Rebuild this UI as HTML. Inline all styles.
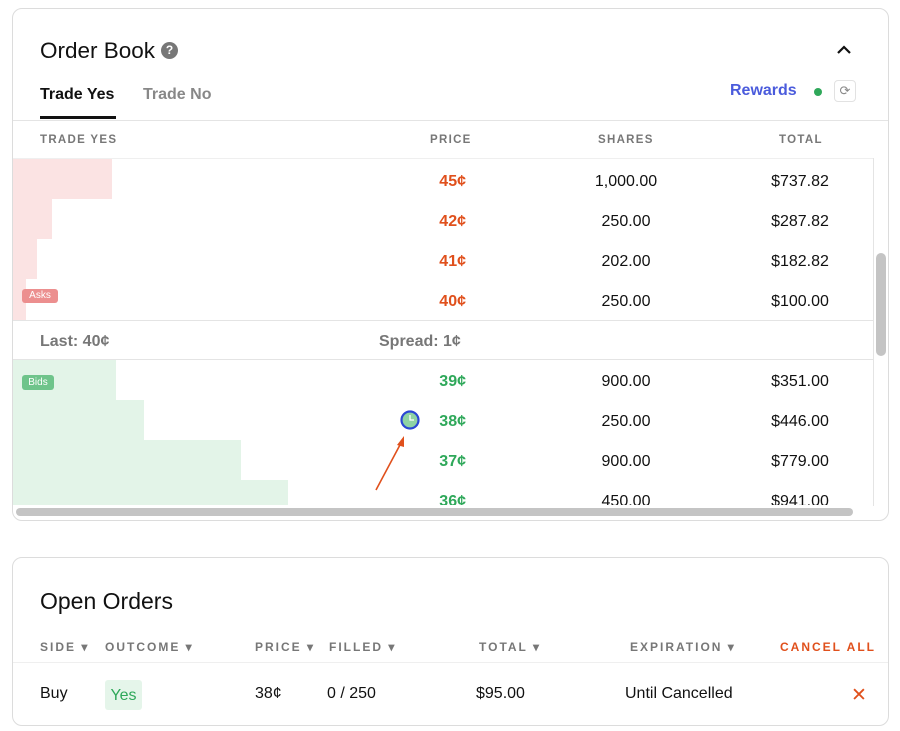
<!DOCTYPE html>
<html><head><style>
*{margin:0;padding:0;box-sizing:border-box}
body{width:900px;height:731px;background:#fff;font-family:"Liberation Sans",sans-serif;position:relative;overflow:hidden;color:#111}
.a{position:absolute;white-space:nowrap}
.card{position:absolute;border:1px solid #dcdcdc;border-radius:10px;background:#fff}
.hl{position:absolute;height:1px;background:#e4e4e4}
.th{font-size:11.5px;font-weight:bold;color:#777;letter-spacing:1.3px}
.p{font-size:16px;font-weight:bold;text-align:right;width:60px}
.s{font-size:16px;text-align:center;width:120px}
.red{color:#e0501c}.grn{color:#2fa85a}
.oh{font-size:12px;color:#777;letter-spacing:2px;font-weight:bold}
</style></head><body>
<div class="card" style="left:12px;top:8px;width:877px;height:513px"></div>
<div class="a" style="left:40px;top:38px;font-size:22.5px">Order Book</div>
<div class="a" style="left:161px;top:42px;width:17px;height:17px;border-radius:50%;background:#777;color:#fff;font-size:12px;font-weight:bold;text-align:center;line-height:17px">?</div>
<svg class="a" style="left:836px;top:44px" width="16" height="12"><path d="M2 9 L8 3 L14 9" stroke="#111" stroke-width="2.2" fill="none"/></svg>
<div class="a" style="left:40px;top:86px;font-size:16px;font-weight:bold">Trade Yes</div>
<div class="a" style="left:143px;top:86px;font-size:16px;font-weight:bold;color:#888">Trade No</div>
<div class="a" style="left:40px;top:116px;width:76px;height:3px;background:#111"></div>
<div class="a" style="left:730px;top:82px;font-size:16px;font-weight:bold;color:#4a5bdc">Rewards</div>
<div class="a" style="left:814px;top:88px;width:8px;height:8px;border-radius:50%;background:#2fa85a"></div>
<div class="a" style="left:834px;top:80px;width:22px;height:22px;border:1px solid #e2e2e2;border-radius:4px;color:#888;font-size:13px;text-align:center;line-height:20px">⟳</div>
<div class="hl" style="left:13px;top:120px;width:875px"></div>
<div class="a th" style="left:40px;top:134px">TRADE YES</div>
<div class="a th" style="left:430px;top:134px">PRICE</div>
<div class="a th" style="left:598px;top:134px">SHARES</div>
<div class="a th" style="left:779px;top:134px">TOTAL</div>
<div class="hl" style="left:13px;top:158px;width:860px;background:#efefef"></div>
<div class="a" style="left:13px;top:159px;width:99px;height:40px;background:#fbe3e3"></div>
<div class="a" style="left:13px;top:199px;width:39px;height:40px;background:#fbe3e3"></div>
<div class="a" style="left:13px;top:239px;width:24px;height:40px;background:#fbe3e3"></div>
<div class="a" style="left:13px;top:279px;width:13px;height:41px;background:#fbe3e3"></div>
<div class="a" style="left:22px;top:289px;width:36px;height:14px;border-radius:3px;background:#ec8f8f;color:#fff;font-size:10px;text-align:center;line-height:14px">Asks</div>
<div class="a p red" style="left:406px;top:173px">45¢</div><div class="a s" style="left:566px;top:173px">1,000.00</div><div class="a s" style="left:740px;top:173px">$737.82</div>
<div class="a p red" style="left:406px;top:213px">42¢</div><div class="a s" style="left:566px;top:213px">250.00</div><div class="a s" style="left:740px;top:213px">$287.82</div>
<div class="a p red" style="left:406px;top:253px">41¢</div><div class="a s" style="left:566px;top:253px">202.00</div><div class="a s" style="left:740px;top:253px">$182.82</div>
<div class="a p red" style="left:406px;top:293px">40¢</div><div class="a s" style="left:566px;top:293px">250.00</div><div class="a s" style="left:740px;top:293px">$100.00</div>
<div class="hl" style="left:13px;top:320px;width:860px"></div>
<div class="a" style="left:40px;top:333px;font-size:16px;font-weight:bold;color:#777">Last: 40¢</div>
<div class="a" style="left:379px;top:333px;font-size:16px;font-weight:bold;color:#777">Spread: 1¢</div>
<div class="hl" style="left:13px;top:359px;width:860px"></div>
<div class="a" style="left:13px;top:360px;width:103px;height:40px;background:#e3f4e8"></div>
<div class="a" style="left:13px;top:400px;width:131px;height:40px;background:#e3f4e8"></div>
<div class="a" style="left:13px;top:440px;width:228px;height:40px;background:#e3f4e8"></div>
<div class="a" style="left:13px;top:480px;width:275px;height:25px;background:#e3f4e8"></div>
<div class="a" style="left:22px;top:375px;width:32px;height:15px;border-radius:3px;background:#6fc48b;color:#fff;font-size:10px;text-align:center;line-height:15px">Bids</div>
<div style="position:absolute;left:13px;top:360px;width:860px;height:145px;overflow:hidden">
<div class="a p grn" style="left:393px;top:13px">39¢</div><div class="a s" style="left:553px;top:13px">900.00</div><div class="a s" style="left:727px;top:13px">$351.00</div>
<div class="a p grn" style="left:393px;top:53px">38¢</div><div class="a s" style="left:553px;top:53px">250.00</div><div class="a s" style="left:727px;top:53px">$446.00</div>
<div class="a p grn" style="left:393px;top:93px">37¢</div><div class="a s" style="left:553px;top:93px">900.00</div><div class="a s" style="left:727px;top:93px">$779.00</div>
<div class="a p grn" style="left:393px;top:133px">36¢</div><div class="a s" style="left:553px;top:133px">450.00</div><div class="a s" style="left:727px;top:133px">$941.00</div>
</div>
<svg class="a" style="left:360px;top:405px" width="70" height="95">
<circle cx="50" cy="15" r="8.5" fill="#8fd3a4" stroke="#2b47d4" stroke-width="2.2"/>
<path d="M50 10 V15 H54" stroke="#fff" stroke-width="1.3" fill="none"/>
<line x1="16" y1="85" x2="41" y2="38" stroke="#e0501c" stroke-width="1.6"/>
<path d="M44 31 L37 40 L44 42 Z" fill="#e0501c"/>
</svg>
<div class="a" style="left:873px;top:158px;width:1px;height:348px;background:#e4e4e4"></div>
<div class="a" style="left:876px;top:253px;width:10px;height:103px;border-radius:5px;background:#c4c4c4"></div>
<div class="a" style="left:16px;top:508px;width:837px;height:8px;border-radius:4px;background:#c4c4c4"></div>

<div class="card" style="left:12px;top:557px;width:877px;height:169px"></div>
<div class="a" style="left:40px;top:588px;font-size:23px">Open Orders</div>
<div class="a oh" style="left:40px;top:640px">SIDE ▾</div>
<div class="a oh" style="left:105px;top:640px">OUTCOME ▾</div>
<div class="a oh" style="left:255px;top:640px">PRICE ▾</div>
<div class="a oh" style="left:329px;top:640px">FILLED ▾</div>
<div class="a oh" style="left:479px;top:640px">TOTAL ▾</div>
<div class="a oh" style="left:630px;top:640px">EXPIRATION ▾</div>
<div class="a oh" style="left:780px;top:640px;color:#e0501c">CANCEL ALL</div>
<div class="hl" style="left:13px;top:662px;width:875px;background:#efefef"></div>
<div class="a" style="left:40px;top:685px;font-size:16px">Buy</div>
<div class="a" style="left:105px;top:680px;width:37px;height:30px;border-radius:3px;background:#e5f5ea;color:#2fa85a;font-size:16px;text-align:center;line-height:32px">Yes</div>
<div class="a" style="left:255px;top:685px;font-size:16px">38¢</div>
<div class="a" style="left:327px;top:685px;font-size:16px">0 / 250</div>
<div class="a" style="left:476px;top:685px;font-size:16px">$95.00</div>
<div class="a" style="left:625px;top:685px;font-size:16px">Until Cancelled</div>
<div class="a" style="left:851px;top:684px;font-size:19px;color:#e0501c">✕</div>
</body></html>
